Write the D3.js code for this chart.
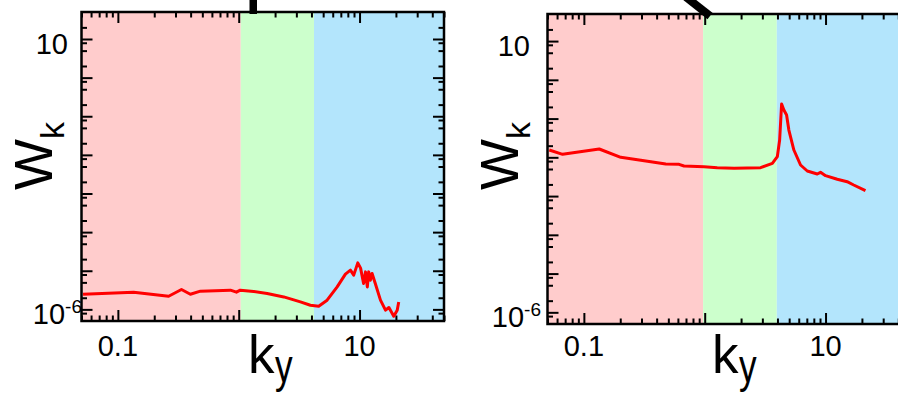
<!DOCTYPE html>
<html>
<head>
<meta charset="utf-8">
<script src="https://cdn.jsdelivr.net/npm/d3@7"></script>
<style>
body { margin: 0; background: #fff; }
svg { display: block; font-family: "Liberation Sans", Arial, sans-serif; }
</style>
</head>
<body>
<script>
// spectrum
var leftK = [0.0515, 0.135, 0.263, 0.336, 0.398, 0.482, 0.854, 0.957, 1.03, 1.33, 1.72, 2.36, 3.24, 3.92, 4.59,
  5.39, 6.53, 7.64, 8.41, 8.95, 9.67, 10.2, 10.8, 11.2, 11.6, 11.9, 12.3, 12.7, 13.5, 14.9, 16.4, 17.5, 19.2, 20.5, 21.1];
var leftW = [2.47e-6, 2.79e-6, 2.19e-6, 3.27e-6, 2.47e-6, 2.96e-6, 3.14e-6, 2.79e-6, 3.14e-6, 2.90e-6, 2.58e-6, 2.10e-6, 1.56e-6, 1.28e-6, 1.21e-6,
  1.73e-6, 3.82e-6, 8.15e-6, 1.04e-5, 7.69e-6, 1.60e-5, 1.17e-5, 4.69e-6, 9.35e-6, 3.82e-6, 9.35e-6, 5.70e-6, 8.51e-6, 4.69e-6, 1.73e-6, 9.53e-7, 1.12e-6, 6.65e-7, 9.53e-7, 1.56e-6];

// spectrum
var rightK = [0.0517, 0.0667, 0.134, 0.202, 0.358, 0.476, 0.613, 0.674, 0.987, 1.27, 1.75, 2.90, 3.63, 3.99, 4.17,
  4.33, 4.52, 4.76, 4.97, 5.47, 6.21, 7.06, 8.54, 9.09, 10, 12.5, 15.1, 17.1, 21.4];
var rightW = [0.01545, 0.01197, 0.0164, 0.01002, 0.00771, 0.00673, 0.00661, 0.00597, 0.00573, 0.00541, 0.00521, 0.00541, 0.00702, 0.01038, 0.0280,
  0.238, 0.167, 0.124, 0.0507, 0.01545, 0.00634, 0.00444, 0.00372, 0.00411, 0.00336, 0.00271, 0.00235, 0.00193, 0.00138];

// shaded k ranges: pink / green / blue
var leftBands = [0.05, 1.04, 4.2, 50];
var rightBands = [0.05, 0.97, 3.95, 50];
var bandColors = ["#ffcccc", "#ccffcc", "#b3e5fc"];

// axes
var xDomain = [0.05, 50];
var yDomain = [5e-7, 50];
var xLabelled = [0.1, 10];
var yLabelled = [10, 1e-6];
var yMinorMult = [2, 5, 8];

var svg = d3.select("body").append("svg")
    .attr("width", 898)
    .attr("height", 397);

function decades(lo, hi) {
  var out = [];
  for (var e = lo; e <= hi; e++) out.push(Math.pow(10, e));
  return out;
}

function drawPanel(p) {
  var x = d3.scaleLog().domain(xDomain).range([p.left, p.right]);
  var y = d3.scaleLog().domain(yDomain).range([p.bottom, p.top]);
  var w = p.right - p.left, h = p.bottom - p.top;

  // background bands
  for (var i = 0; i < 3; i++) {
    svg.append("rect")
        .attr("x", x(p.bands[i]))
        .attr("y", p.top)
        .attr("width", x(p.bands[i + 1]) - x(p.bands[i]))
        .attr("height", h)
        .attr("fill", bandColors[i]);
  }

  // tick values
  var xMajor = decades(-1, 1);
  var xMinor = [];
  decades(-2, 1).forEach(function(d) {
    for (var m = 2; m <= 9; m++) {
      var v = d * m;
      if (v > xDomain[0] * 0.999 && v < xDomain[1] * 1.001) xMinor.push(v);
    }
  });
  var yMajor = decades(-6, 1);
  var yMinor = [];
  decades(-7, 1).forEach(function(d) {
    yMinorMult.forEach(function(m) {
      var v = d * m;
      if (v > yDomain[0] * 1.001 && v < yDomain[1] * 0.999) yMinor.push(v);
    });
  });

  function ticks(axis, vals, size, tr) {
    var g = svg.append("g")
        .attr("transform", tr)
        .call(axis.tickValues(vals).tickSize(size).tickSizeOuter(0).tickFormat(""));
    g.select(".domain").remove();
    g.selectAll("line").attr("stroke", "#000").attr("stroke-width", 2);
  }
  var big = -11, small = -5.5;
  ticks(d3.axisBottom(x), xMajor, big, "translate(0," + p.bottom + ")");
  ticks(d3.axisBottom(x), xMinor, small, "translate(0," + p.bottom + ")");
  ticks(d3.axisTop(x), xMajor, big, "translate(0," + p.top + ")");
  ticks(d3.axisTop(x), xMinor, small, "translate(0," + p.top + ")");
  ticks(d3.axisLeft(y), yMajor, big, "translate(" + p.left + ",0)");
  ticks(d3.axisLeft(y), yMinor, small, "translate(" + p.left + ",0)");
  ticks(d3.axisRight(y), yMajor, big, "translate(" + p.right + ",0)");
  ticks(d3.axisRight(y), yMinor, small, "translate(" + p.right + ",0)");

  // the spectrum
  var pts = p.k.map(function(k, j) { return [k, p.W[j]]; });
  svg.append("path")
      .datum(pts)
      .attr("fill", "none")
      .attr("stroke", "#ff0000")
      .attr("stroke-width", 3)
      .attr("stroke-linejoin", "round")
      .attr("d", d3.line()
          .x(function(d) { return x(d[0]); })
          .y(function(d) { return y(d[1]); }));

  // frame
  svg.append("rect")
      .attr("x", p.left).attr("y", p.top)
      .attr("width", w).attr("height", h)
      .attr("fill", "none")
      .attr("stroke", "#000")
      .attr("stroke-width", 2.5);

  // x tick labels
  xLabelled.forEach(function(v) {
    svg.append("text")
        .attr("x", x(v))
        .attr("y", p.xLabelY)
        .attr("text-anchor", "middle")
        .attr("font-size", 29)
        .text(v);
  });

  // y tick labels
  svg.append("text")
      .attr("x", p.y10End)
      .attr("y", y(yLabelled[0]) + 15)
      .attr("text-anchor", "end")
      .attr("font-size", 29)
      .text("10");
  var t = svg.append("text")
      .attr("x", p.yExpEnd)
      .attr("y", y(yLabelled[1]) + 15)
      .attr("text-anchor", "end")
      .attr("font-size", 29);
  t.append("tspan").text("10");
  t.append("tspan").attr("font-size", 19).attr("dy", -11).text("-6");

  // axis titles
  var wt = svg.append("text")
      .attr("transform", "translate(" + p.wX + ",190) rotate(-90)")
      .attr("font-size", 54);
  wt.append("tspan").text("W");
  wt.append("tspan").attr("font-size", 34).attr("dy", 12).text("k");

  svg.append("text")
      .attr("x", p.kX)
      .attr("y", 373)
      .attr("font-size", 53)
      .text("k");
  // subscript y is tall and narrow in the source
  svg.append("text")
      .attr("transform", "translate(" + (p.kX + 27) + ",382) scale(0.75,1)")
      .attr("font-size", 47)
      .text("y");
}

drawPanel({left: 81.5, right: 444, top: 12, bottom: 321, k: leftK, W: leftW, bands: leftBands,
  xLabelY: 356, y10End: 68, yExpEnd: 82, wX: 51.5, kX: 248});
drawPanel({left: 547.5, right: 910, top: 14, bottom: 324, k: rightK, W: rightW, bands: rightBands,
  xLabelY: 356, y10End: 530, yExpEnd: 541, wX: 518, kX: 712});

// annotation marks poking in from above (cut off in the source)
svg.append("rect")
    .attr("x", 249.5).attr("y", 0)
    .attr("width", 7.5).attr("height", 14)
    .attr("fill", "#000");
svg.append("line")
    .attr("x1", 686).attr("y1", -3)
    .attr("x2", 710).attr("y2", 16)
    .attr("stroke", "#000")
    .attr("stroke-width", 8);
</script>
</body>
</html>
